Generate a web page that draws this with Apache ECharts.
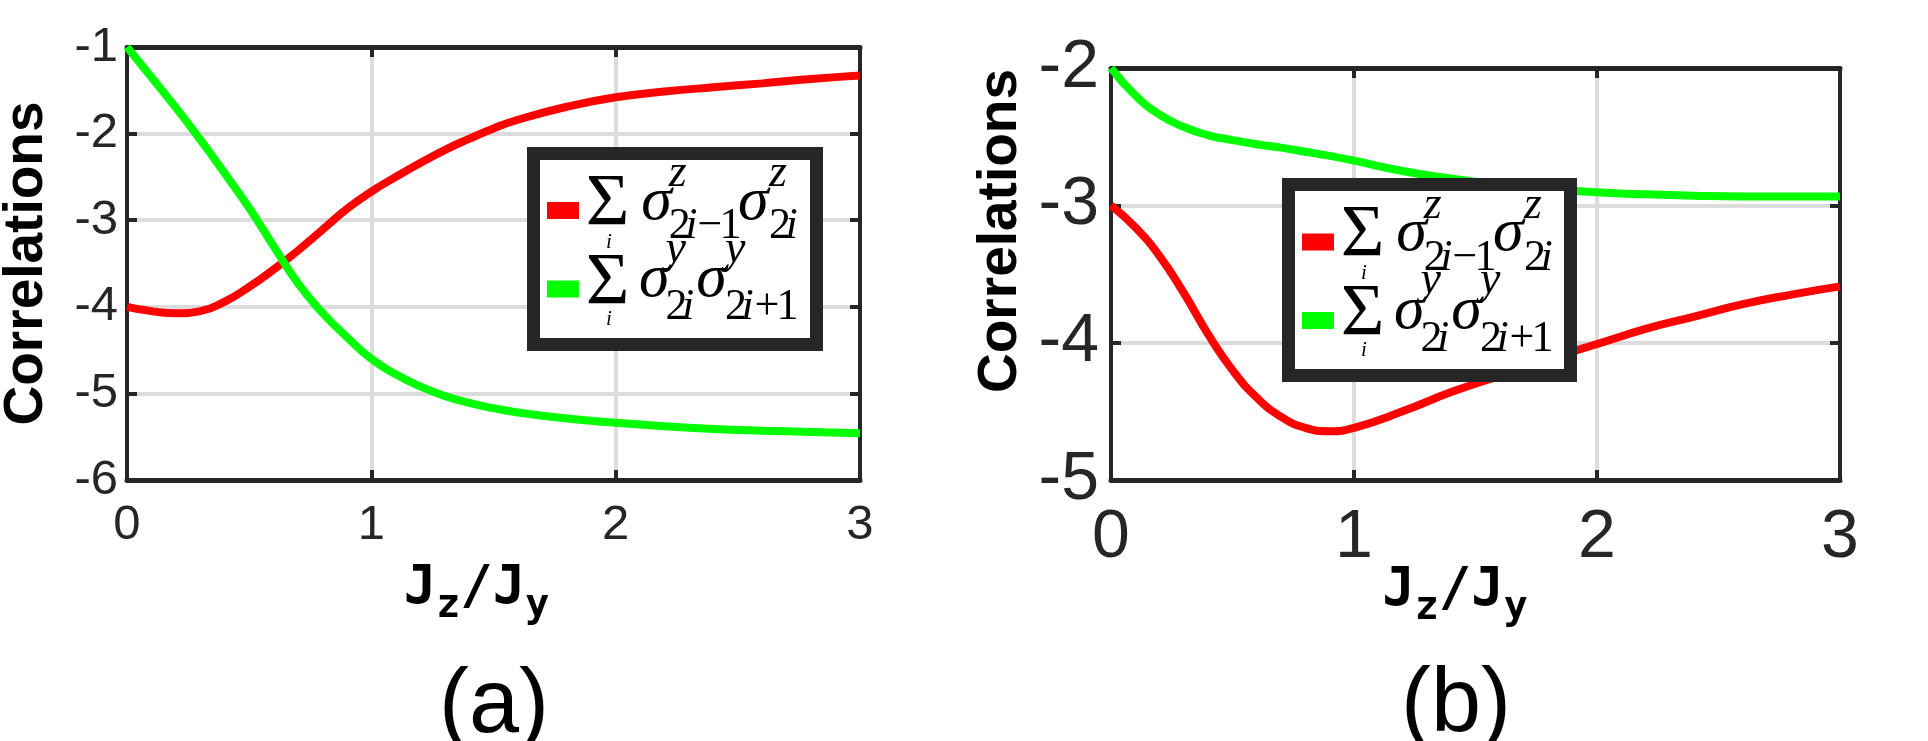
<!DOCTYPE html>
<html>
<head>
<meta charset="utf-8">
<script src="https://cdn.jsdelivr.net/npm/echarts@6/dist/echarts.min.js"></script>
<style>
html,body{margin:0;padding:0;background:#ffffff;}
#chart{width:1928px;height:741px;}
</style>
</head>
<body>
<div id="chart"></div>
<script>
// ---------- data ----------
const jA = [0, 0.1, 0.2, 0.3, 0.4, 0.5, 0.6, 0.7, 0.8, 0.9, 1.0, 1.1, 1.2, 1.3, 1.4, 1.5, 1.6, 1.8, 2.0, 2.2, 2.4, 2.6, 2.8, 3.0];
const zzA = [-4.00, -4.05, -4.075, -4.05, -3.94, -3.77, -3.57, -3.35, -3.11, -2.87, -2.67, -2.50, -2.34, -2.19, -2.06, -1.94, -1.84, -1.69, -1.58, -1.515, -1.465, -1.42, -1.37, -1.33];
const yyA = [-1.00, -1.35, -1.70, -2.07, -2.46, -2.86, -3.30, -3.73, -4.07, -4.35, -4.60, -4.78, -4.92, -5.03, -5.11, -5.17, -5.22, -5.29, -5.34, -5.38, -5.41, -5.43, -5.445, -5.46];

const jB = [0, 0.1, 0.2, 0.3, 0.4, 0.5, 0.6, 0.7, 0.8, 0.9, 1.0, 1.2, 1.4, 1.6, 1.8, 2.0, 2.2, 2.4, 2.6, 2.8, 3.0];
const zzB = [-3.00, -3.16, -3.37, -3.64, -3.94, -4.20, -4.40, -4.54, -4.62, -4.645, -4.62, -4.50, -4.36, -4.24, -4.12, -4.01, -3.90, -3.81, -3.72, -3.65, -3.59];
const yyB = [-2.00, -2.20, -2.34, -2.43, -2.49, -2.525, -2.555, -2.58, -2.61, -2.64, -2.675, -2.75, -2.805, -2.85, -2.88, -2.905, -2.92, -2.93, -2.935, -2.935, -2.935];

const xRange = [0, 3];
const yRangeA = [-6, -1];
const yRangeB = [-5, -2];
const seriesNames = ['\u03A3 \u03C3z(2i\u22121) \u03C3z(2i)', '\u03A3 \u03C3y(2i) \u03C3y(2i+1)'];
const panelLabels = ['(a)', '(b)'];
const yTitle = 'Correlations';
// legend math pieces: [text, italic]
const legendPieces1 = [['\u03A3', 0], ['i', 1], ['\u03C3', 1], ['z', 1], ['2', 0], ['i', 1], ['\u2212', 0], ['1', 0], ['\u03C3', 1], ['z', 1], ['2', 0], ['i', 1]];
const legendPieces2 = [['\u03A3', 0], ['i', 1], ['\u03C3', 1], ['y', 1], ['2', 0], ['i', 1], ['\u03C3', 1], ['y', 1], ['2', 0], ['i', 1], ['+', 0], ['1', 0]];

// ---------- styles ----------
const SANS = "'Liberation Sans',Arial,sans-serif";
const SERIF = "'Liberation Serif','Times New Roman',serif";
const MONO = "'DejaVu Sans Mono',monospace";
const AXIS_COLOR = '#262626';
const GRID_COLOR = '#dcdcdc';
const RED = '#ff0000';
const GREEN = '#00ff00';

// layout of the math pieces (offset from colour-bar left, offset from row centre, font size)
const pieceLayout1 = [[38.75, -5.5, 75], [59.1, 31.9, 21], [94.3, -7.9, 62], [121.8, -36.5, 46], [121.8, 16.15, 44], [138.3, 16.15, 44], [150.4, 16.15, 44], [172.4, 16.15, 44], [191.1, -7.9, 62], [221.9, -36.5, 46], [221.9, 16.15, 44], [238.4, 16.15, 44]];
const pieceLayout2 = [[38.75, -5, 75], [59.1, 30.4, 21], [92.1, -8.9, 62], [118.5, -39.5, 46], [118.5, 18.65, 44], [135, 18.65, 44], [149.3, -8.9, 62], [177.9, -39.5, 46], [177.9, 18.65, 44], [194.4, 18.65, 44], [207.6, 18.65, 44], [229.6, 18.65, 44]];

function legendGraphic(boxX, boxY, boxW, boxH, barX, c1, c2) {
  const els = [{
    type: 'rect', z: 20, silent: true,
    shape: { x: boxX, y: boxY, width: boxW, height: boxH },
    style: { fill: '#ffffff', stroke: AXIS_COLOR, lineWidth: 13 }
  }];
  const rows = [[c1, RED, legendPieces1, pieceLayout1], [c2, GREEN, legendPieces2, pieceLayout2]];
  rows.forEach(function (row) {
    const c = row[0];
    els.push({ type: 'rect', z: 21, silent: true, shape: { x: barX, y: c - 8.5, width: 32, height: 17 }, style: { fill: row[1] } });
    row[2].forEach(function (p, k) {
      const L = row[3][k];
      els.push({
        type: 'text', z: 21, silent: true, x: barX + L[0], y: c + L[1],
        style: { text: p[0], fontFamily: SERIF, fontSize: L[2], fontStyle: p[1] ? 'italic' : 'normal', fill: '#000', align: 'left', verticalAlign: 'middle' }
      });
    });
  });
  return els;
}

function ntok(size, padTop) {
  return { fontFamily: MONO, fontWeight: 'bold', fontSize: size, color: '#000', height: 1, lineHeight: 70, verticalAlign: 'top', padding: [padTop, 0, 0, 0] };
}
const xNameRich = { J: ntok(54, 48.8), s: ntok(40, 65.7) };
const xNameText = '{J|J}{s|z}{J|/}{J|J}{s|y}';

function xAxisMain(gridIndex, fontSize, margin, nameGap, shift) {
  return {
    type: 'value', gridIndex: gridIndex, position: 'bottom', min: xRange[0], max: xRange[1], interval: 1,
    axisLine: { show: true, onZero: false, lineStyle: { color: AXIS_COLOR, width: 5 } },
    axisTick: { show: true, inside: true, length: 10, lineStyle: { color: AXIS_COLOR, width: 4 } },
    axisLabel: { show: true, margin: margin, fontFamily: SANS, fontSize: fontSize, color: AXIS_COLOR },
    splitLine: { show: true, lineStyle: { color: GRID_COLOR, width: 4 } },
    name: xNameText, nameLocation: 'middle', nameGap: nameGap, nameMoveOverlap: false,
    nameTextStyle: { rich: xNameRich, padding: [0, shift, 0, 0] }
  };
}
function xAxisTop(gridIndex) {
  return {
    type: 'value', gridIndex: gridIndex, position: 'top', min: xRange[0], max: xRange[1], interval: 1,
    axisLine: { show: true, onZero: false, lineStyle: { color: AXIS_COLOR, width: 5 } },
    axisTick: { show: true, inside: true, length: 10, lineStyle: { color: AXIS_COLOR, width: 4 } },
    axisLabel: { show: false }, splitLine: { show: false }
  };
}
function yAxisMain(gridIndex, range, fontSize, margin, nameGap, padLeft) {
  return {
    type: 'value', gridIndex: gridIndex, position: 'left', min: range[0], max: range[1], interval: 1,
    axisLine: { show: true, onZero: false, lineStyle: { color: AXIS_COLOR, width: 4 } },
    axisTick: { show: true, inside: true, length: 10, lineStyle: { color: AXIS_COLOR, width: 4 } },
    axisLabel: { show: true, margin: margin, fontFamily: SANS, fontSize: fontSize, color: AXIS_COLOR },
    splitLine: { show: true, lineStyle: { color: GRID_COLOR, width: 4 } },
    name: yTitle, nameLocation: 'middle', nameGap: nameGap, nameMoveOverlap: false,
    nameTextStyle: { fontFamily: SANS, fontWeight: 'bold', fontSize: 55, lineHeight: 55, color: '#000', padding: [0, 0, 0, padLeft] }
  };
}
function yAxisRight(gridIndex, range) {
  return {
    type: 'value', gridIndex: gridIndex, position: 'right', min: range[0], max: range[1], interval: 1,
    axisLine: { show: true, onZero: false, lineStyle: { color: AXIS_COLOR, width: 4 } },
    axisTick: { show: true, inside: true, length: 10, lineStyle: { color: AXIS_COLOR, width: 4 } },
    axisLabel: { show: false }, splitLine: { show: false }
  };
}
function lineSeries(name, xi, yi, xs, ys, color) {
  return {
    type: 'line', name: name, xAxisIndex: xi, yAxisIndex: yi,
    data: xs.map(function (x, i) { return [x, ys[i]]; }),
    smooth: true, symbol: 'none', clip: false, z: 3,
    lineStyle: { width: 8, color: color }, itemStyle: { color: color },
    emphasis: { disabled: true }
  };
}
function panelTitle(text, left, top) {
  return {
    text: text, left: left, top: top, textAlign: 'center', textVerticalAlign: 'top', padding: 0,
    textStyle: { fontFamily: SANS, fontWeight: 'normal', fontSize: 90, lineHeight: 90, color: '#000' }
  };
}

const chart = echarts.init(document.getElementById('chart'), null, { renderer: 'canvas' });
chart.setOption({
  backgroundColor: '#ffffff',
  animation: false,
  title: [panelTitle(panelLabels[0], 494, 662), panelTitle(panelLabels[1], 1456, 661)],
  grid: [
    { left: 127, top: 47, width: 733, height: 433, containLabel: false, outerBoundsMode: 'none' },
    { left: 1111, top: 68, width: 729, height: 412, containLabel: false, outerBoundsMode: 'none' }
  ],
  xAxis: [xAxisMain(0, 49, 21, 60, 34), xAxisTop(0), xAxisMain(1, 68, 24, 62, 41), xAxisTop(1)],
  yAxis: [yAxisMain(0, yRangeA, 49, 9, 73, 0), yAxisRight(0, yRangeA), yAxisMain(1, yRangeB, 68, 12, 83, 86), yAxisRight(1, yRangeB)],
  graphic: legendGraphic(533.5, 153.5, 283, 191, 547, 210.5, 289).concat(legendGraphic(1288.5, 184.5, 282, 191, 1302, 242, 320.5)),
  series: [
    lineSeries(seriesNames[0], 0, 0, jA, zzA, RED),
    lineSeries(seriesNames[1], 0, 0, jA, yyA, GREEN),
    lineSeries(seriesNames[0], 2, 2, jB, zzB, RED),
    lineSeries(seriesNames[1], 2, 2, jB, yyB, GREEN)
  ]
});
</script>
</body>
</html>
